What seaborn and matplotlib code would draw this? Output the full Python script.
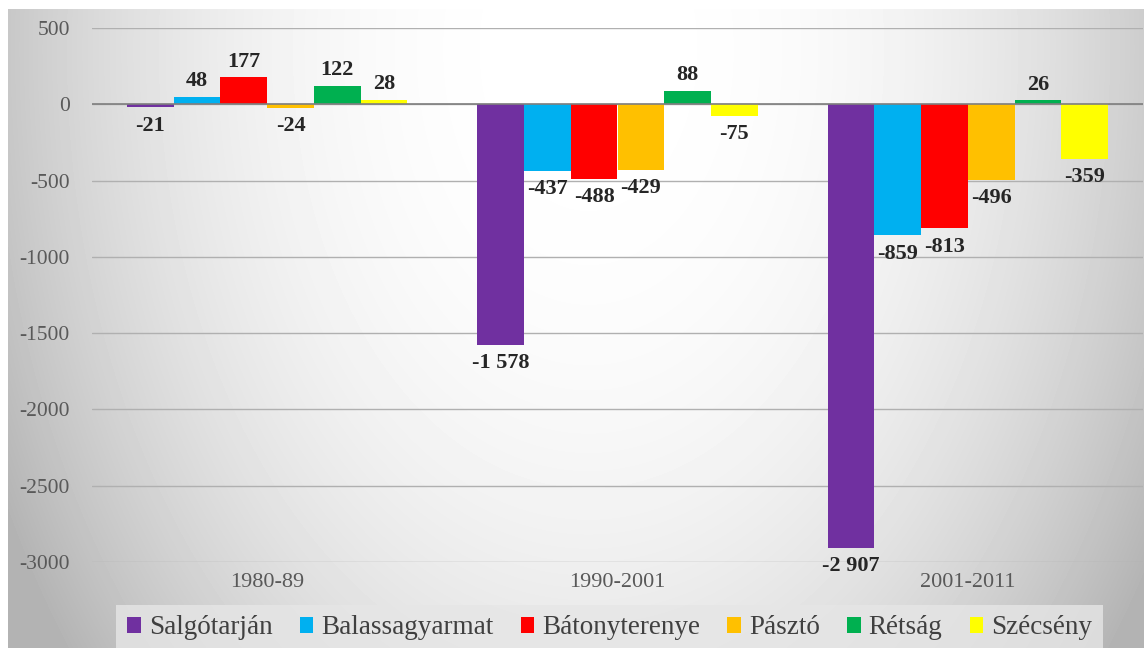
import numpy as np
import pandas as pd
import seaborn as sns
import matplotlib.pyplot as plt

periods = ['1980-89', '1990-2001', '2001-2011']
towns = ['Salgótarján', 'Balassagyarmat', 'Bátonyterenye', 'Pásztó', 'Rétság', 'Szécsény']
colors = ['#7030A0', '#00B0F0', '#FF0000', '#FFC000', '#00B050', '#FFFF00']

salgotarjan = [-21, -1578, -2907]
balassagyarmat = [48, -437, -859]
batonyterenye = [177, -488, -813]
paszto = [-24, -429, -496]
retsag = [122, 88, 26]
szecseny = [28, -75, -359]

series = [salgotarjan, balassagyarmat, batonyterenye, paszto, retsag, szecseny]
df = pd.DataFrame([
    {'period': p, 'town': t, 'value': v}
    for t, vals in zip(towns, series)
    for p, v in zip(periods, vals)
])

sns.set_theme(style='white')
plt.rcParams['font.family'] = ['Liberation Serif', 'DejaVu Serif']
plt.rcParams['axes.unicode_minus'] = False

W, H = 1144, 648
fig = plt.figure(figsize=(W / 100, H / 100), dpi=100)
fig.patch.set_facecolor('white')

# radial grey background like the slide
bg = fig.add_axes([8 / W, 0, 1 - 8 / W, 1 - 9 / H])
yy, xx = np.mgrid[0:H - 9, 0:W - 8]
r = np.sqrt(((xx - 580) / 640.0) ** 2 + ((yy - 40) / 950.0) ** 2)
shade = np.clip(255 - 70 * r ** 2.4, 180, 255) / 255.0
bg.imshow(shade, cmap='gray', vmin=0, vmax=1, aspect='auto', interpolation='bilinear')
bg.axis('off')

ax = fig.add_axes([92 / W, 1 - 562 / H, (1143 - 92) / W, (562 - 28) / H])
ax.set_facecolor('none')

sns.barplot(data=df, x='period', y='value', hue='town', hue_order=towns,
            order=periods, palette=colors, saturation=1, width=0.8,
            linewidth=0, edgecolor='none', ax=ax)

# labels: a little further out below negative bars, like Excel
for cont in ax.containers:
    for bar, v in zip(cont, cont.datavalues):
        txt = f"{int(v):,}".replace(',', ' ')
        x = bar.get_x() + bar.get_width() / 2
        if v >= 0:
            ax.annotate(txt, (x, v), xytext=(0, 4), textcoords='offset points',
                        ha='center', va='bottom', fontsize=16, fontweight='bold')
        else:
            ax.annotate(txt, (x, v), xytext=(0, -6), textcoords='offset points',
                        ha='center', va='top', fontsize=16, fontweight='bold')

ax.set_xlim(-0.5, 2.5)
ax.set_ylim(-3000, 500)
ax.set_yticks(range(-3000, 501, 500))
ax.yaxis.grid(True, color='#b0b0b0', lw=1)
ax.set_axisbelow(True)
ax.axhline(0, color='#7f7f7f', lw=1.2, zorder=1.5)
for s in ax.spines.values():
    s.set_visible(False)
ax.tick_params(axis='y', length=0, pad=16, labelsize=15.5, labelcolor='#595959')
ax.tick_params(axis='x', length=0, pad=8, labelsize=16, labelcolor='#595959')
ax.set_xlabel('')
ax.set_ylabel('')

handles, labels = ax.get_legend_handles_labels()
ax.get_legend().remove()
fig.legend(handles, labels, loc='center', bbox_to_anchor=(0.533, 0.031), ncol=6,
           prop={'family': 'Liberation Serif', 'size': 19.5},
           frameon=True, facecolor='#e6e6e6', edgecolor='none',
           framealpha=0.8, fancybox=False, handlelength=0.5, handleheight=0.5,
           handletextpad=0.3, columnspacing=1.0, borderaxespad=0,
           labelcolor='#404040')

fig.savefig('out.png', dpi=100)
